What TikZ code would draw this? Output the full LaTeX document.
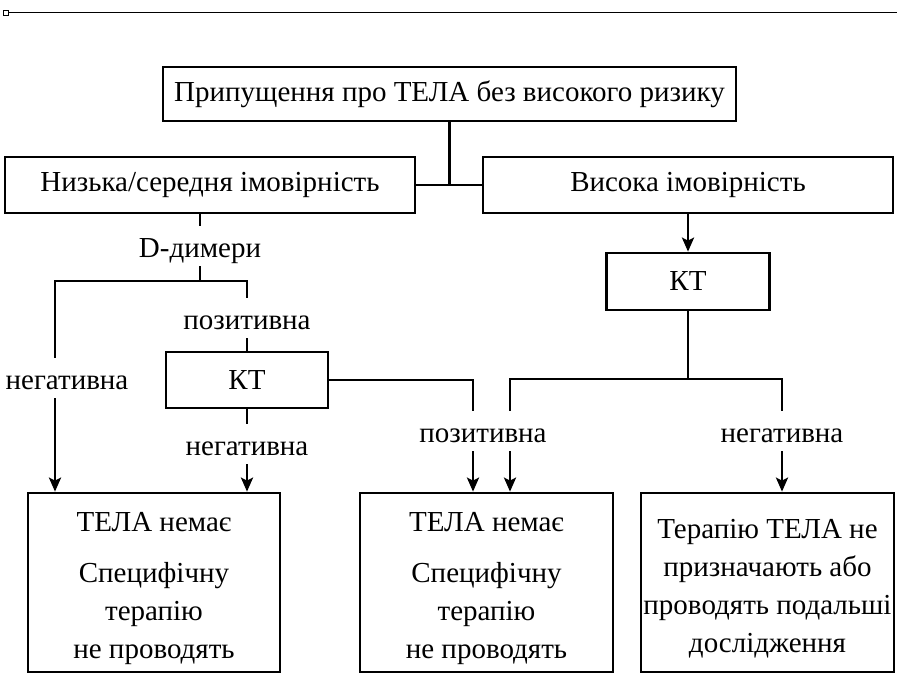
\documentclass[tikz,border=0pt]{standalone}
\usepackage{fontspec}
\setmainfont{Liberation Serif}
\usetikzlibrary{arrows.meta}
\begin{document}
\begin{tikzpicture}[x=1pt,y=-1pt,
  every node/.style={font=\fontsize{29}{38}\selectfont},
  box/.style={draw,line width=2.7pt,inner sep=0pt},
  lbl/.style={inner xsep=2pt,inner ysep=9pt,text height=22pt,text depth=0pt,anchor=base},
  txt/.style={align=center,inner sep=0pt,anchor=north},
  conn/.style={line width=2.7pt},
  arr/.style={line width=2.7pt,-{Stealth[length=14pt,width=12pt,inset=3pt]}}]
\useasboundingbox (0,0) rectangle (897,677);
% top rule
\node[draw,line width=1pt,minimum size=5pt,inner sep=0pt] (sq) at (5.5,12.7) {};
\coordinate (ruleEnd) at (897,12.7);
\draw[line width=1.2pt] (sq.east) -- (ruleEnd);
% boxes
\node[box,minimum width=573pt,minimum height=54pt] (top) at (449.5,94) {Припущення про ТЕЛА без високого ризику};
\node[box,minimum width=410pt,minimum height=56pt] (low) at (210,185) {Низька/середня імовірність};
\node[box,minimum width=410pt,minimum height=56pt] (high) at (688,185) {Висока імовірність};
\node[box,minimum width=163pt,minimum height=57pt] (kt2) at (688,281.5) {КТ};
\node[box,minimum width=162pt,minimum height=56pt] (kt1) at (247,380) {КТ};
\node[box,minimum width=252pt,minimum height=179pt] (r1) at (154,582.5) {};
\node[box,minimum width=253pt,minimum height=179pt] (r2) at (486.5,582.5) {};
\node[box,minimum width=253pt,minimum height=179pt] (r3) at (767.5,582.5) {};
\node[txt] (t1) at (154,512) {ТЕЛА немає\\[13pt]Специфічну\\терапію\\не проводять};
\node[txt] (t2) at (486.5,512) {ТЕЛА немає\\[13pt]Специфічну\\терапію\\не проводять};
\node[txt] (t3) at (767.5,519) {Терапію ТЕЛА не\\призначають або\\проводять подальші\\дослідження};
% labels
\node[lbl] (dd) at (200,257) {D-димери};
\node[lbl] (pos1) at (247,329) {позитивна};
\node[lbl] (neg1) at (67,389) {негативна};
\node[lbl] (neg2) at (247,455) {негативна};
\node[lbl] (pos2) at (483,442) {позитивна};
\node[lbl] (neg3) at (782,442) {негативна};
% junctions
\coordinate (jL) at (55,281);
\coordinate (jR) at (247,281);
\coordinate (c1) at (473,380);
\coordinate (cA) at (510,379);
\coordinate (cB) at (782,379);
% connectors
\draw[conn] (top.south) -- (top.south |- low.east);
\draw[conn] (low.east) -- (high.west);
\draw[arr] (high.south) -- (high.south |- kt2.north);
\draw[conn] (dd.north |- low.south) -- (dd.north);
\draw[conn] (dd.south) -- (dd.south |- jL);
\draw[conn,line cap=rect] (jL) -- (jR);
\draw[conn] (jL) -- (jL |- neg1.north);
\draw[arr] (jL |- neg1.south) -- (jL |- r1.north);
\draw[conn] (jR) -- (pos1.north);
\draw[conn] (pos1.south) -- (kt1.north);
\draw[conn] (kt1.south) -- (neg2.north);
\draw[arr] (neg2.south) -- (neg2.south |- r1.north);
\draw[conn,line join=miter] (kt1.east) -- (c1) -- (c1 |- pos2.north);
\draw[arr] (c1 |- pos2.south) -- (c1 |- r2.north);
\draw[conn] (kt2.south) -- (kt2.south |- cA);
\draw[conn,line join=miter] (cA |- pos2.north) -- (cA) -- (cB) -- (cB |- neg3.north);
\draw[arr] (cA |- pos2.south) -- (cA |- r2.north);
\draw[arr] (neg3.south) -- (cB |- r3.north);
\end{tikzpicture}
\end{document}
